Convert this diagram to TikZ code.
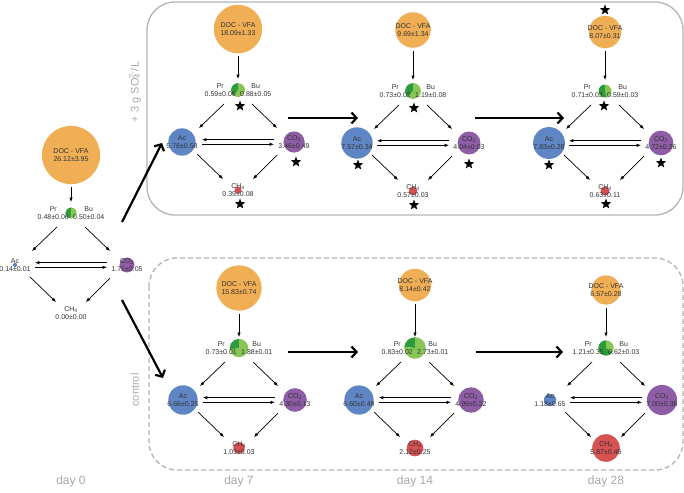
\documentclass[tikz,border=0pt]{standalone}
\usepackage{fontspec}
\setmainfont{Liberation Sans}
\usetikzlibrary{arrows.meta,calc,shapes.geometric}
\definecolor{doc}{HTML}{F0AE55}
\definecolor{ac}{HTML}{5E86C5}
\definecolor{co2}{HTML}{8E5DA6}
\definecolor{ch4}{HTML}{D65252}
\definecolor{prg}{HTML}{2E9B3A}
\definecolor{bug}{HTML}{86C556}
\definecolor{txt}{HTML}{333333}
\definecolor{boxgray}{HTML}{B4B4B4}
\definecolor{lblgray}{HTML}{A8A8A8}
\newcommand\blob[6]{%
  \node[blob, fill=#3, minimum size={11.4*sqrt(#4)}] (#1) at (#2) {};
  \node[lbl] (#1-t) at (#1) {#6\\#4±#5};}
\newcommand\pienode[6]{%
  \coordinate (#1) at (#2);
  \pgfmathsetmacro\pieR{5.7*sqrt(#3+#5)}%
  \pgfmathsetmacro\pieA{90+360*#3/(#3+#5)}%
  \fill[prg] (#1) -- ++(90:\pieR) arc[start angle=90,end angle=\pieA,radius=\pieR] -- cycle;
  \fill[bug] (#1) -- ++(\pieA:\pieR) arc[start angle=\pieA,end angle=450,radius=\pieR] -- cycle;
  \node[lbl, anchor=east] (#1-pr) at ($(#1)+(-2,0)$) {Pr\\#3±#4};
  \node[lbl, anchor=west] (#1-bu) at ($(#1)+(2,0)$) {Bu\\#5±#6};}
\newcommand\netlinks[1]{%
  \draw[sa] ($(#1doc.south)+(0,-3)$) -- ($(#1pie)+(0,11)$);
  \draw[sa] ($(#1pie)+(-14,-14)$) -- ($(#1ac)+(17,14)$);
  \draw[sa] ($(#1pie)+(14,-14)$) -- ($(#1co2)+(-17,14)$);
  \draw[sa] ($(#1ac)+(15,-12)$) -- ($(#1ch4)+(-15,11)$);
  \draw[sa] ($(#1co2)+(-17,-13)$) -- ($(#1ch4)+(15,11)$);
  \draw[sa] ($(#1co2)+(-20,2.3)$) -- ($(#1ac)+(20,2.3)$);
  \draw[sa] ($(#1ac)+(20,-2.3)$) -- ($(#1co2)+(-20,-2.3)$);}
\begin{document}
\begin{tikzpicture}[x=1pt,y=1pt,
  lbl/.style={font=\fontsize{7}{7.8}\selectfont, text=txt, align=center, inner sep=0pt},
  blob/.style={circle, inner sep=0pt, draw=none},
  sa/.style={-{Latex[length=4.3pt,width=3.4pt]}, line width=0.7pt},
  big/.style={-{Straight Barb[length=5pt,width=11pt]}, line width=2.2pt},
  starmark/.style={star, star points=5, star point ratio=2.4, fill=black, inner sep=0pt, minimum size=11pt},
  panel/.style={draw=boxgray, line width=1.3pt, rounded corners=28pt},
  daylbl/.style={font=\fontsize{12}{14}\selectfont, text=lblgray},
  sidelbl/.style={font=\fontsize{11}{13}\selectfont, text=lblgray, rotate=90}]
\useasboundingbox (0,0) rectangle (684,-492);
% panels
\draw[panel] (147,-2) rectangle (683,-215);
\draw[panel, dash pattern=on 5pt off 3pt] (149,-258) rectangle (683,-470);
\node[sidelbl] (lsulf) at (135,-92) {+ 3 g SO\rlap{\textsubscript{4}}\textsuperscript{2-}/L};
\node[sidelbl] (lctrl) at (135,-390) {control};
% day labels
\node[daylbl] (day0) at (71,-481) {day 0};
\node[daylbl] (day7) at (239,-481) {day 7};
\node[daylbl] (day14) at (415,-481) {day 14};
\node[daylbl] (day28) at (606,-481) {day 28};
% ---------- day 0
\pienode{d0pie}{71,-213}{0.48}{0.06}{0.50}{0.04}
\blob{d0doc}{71,-155}{doc}{26.12}{3.95}{DOC - VFA}
\blob{d0ac}{$(d0pie)+(-56,-52)$}{ac}{0.14}{0.01}{Ac}
\blob{d0co2}{$(d0pie)+(56,-52)$}{co2}{1.71}{0.05}{CO\textsubscript{2}}
\blob{d0ch4}{$(d0pie)+(0,-100)$}{ch4}{0.00}{0.00}{CH\textsubscript{4}}
\netlinks{d0}
% ---------- top day 7
\pienode{t7pie}{238,-90}{0.59}{0.06}{0.88}{0.05}
\blob{t7doc}{238,-29}{doc}{18.09}{1.33}{DOC - VFA}
\blob{t7ac}{$(t7pie)+(-56,-52)$}{ac}{5.78}{0.58}{Ac}
\blob{t7co2}{$(t7pie)+(56,-52)$}{co2}{3.46}{0.49}{CO\textsubscript{2}}
\blob{t7ch4}{$(t7pie)+(0,-100)$}{ch4}{0.39}{0.08}{CH\textsubscript{4}}
\netlinks{t7}
\node[starmark] (t7s1) at ($(t7pie)+(2,-16)$) {};
\node[starmark] (t7s2) at ($(t7co2)+(2,-20)$) {};
\node[starmark] (t7s3) at ($(t7ch4)+(2,-14)$) {};
% ---------- top day 14
\pienode{t14pie}{413,-91}{0.73}{0.02}{1.19}{0.08}
\blob{t14doc}{413,-30}{doc}{9.69}{1.34}{DOC - VFA}
\blob{t14ac}{$(t14pie)+(-56,-52)$}{ac}{7.57}{0.34}{Ac}
\blob{t14co2}{$(t14pie)+(56,-52)$}{co2}{4.04}{0.03}{CO\textsubscript{2}}
\blob{t14ch4}{$(t14pie)+(0,-100)$}{ch4}{0.57}{0.03}{CH\textsubscript{4}}
\netlinks{t14}
\node[starmark] (t14s1) at ($(t14pie)+(1,-17)$) {};
\node[starmark] (t14s2) at ($(t14ac)+(1,-22)$) {};
\node[starmark] (t14s3) at ($(t14co2)+(0,-21)$) {};
\node[starmark] (t14s4) at ($(t14ch4)+(1,-14)$) {};
% ---------- top day 28
\pienode{t28pie}{605,-91}{0.71}{0.03}{0.59}{0.03}
\blob{t28doc}{605,-32}{doc}{8.07}{0.31}{DOC - VFA}
\blob{t28ac}{$(t28pie)+(-56,-52)$}{ac}{7.83}{0.28}{Ac}
\blob{t28co2}{$(t28pie)+(56,-52)$}{co2}{4.72}{0.26}{CO\textsubscript{2}}
\blob{t28ch4}{$(t28pie)+(0,-100)$}{ch4}{0.63}{0.11}{CH\textsubscript{4}}
\netlinks{t28}
\node[starmark] (t28s0) at ($(t28doc)+(0,22)$) {};
\node[starmark] (t28s1) at ($(t28pie)+(-1,-15)$) {};
\node[starmark] (t28s2) at ($(t28ac)+(0,-22)$) {};
\node[starmark] (t28s3) at ($(t28co2)+(0,-20)$) {};
\node[starmark] (t28s4) at ($(t28ch4)+(1,-13)$) {};
% ---------- control day 7
\pienode{b7pie}{239,-348}{0.73}{0.01}{1.88}{0.01}
\blob{b7doc}{239,-288}{doc}{15.83}{0.74}{DOC - VFA}
\blob{b7ac}{$(b7pie)+(-56,-52)$}{ac}{6.66}{0.25}{Ac}
\blob{b7co2}{$(b7pie)+(56,-52)$}{co2}{4.30}{0.13}{CO\textsubscript{2}}
\blob{b7ch4}{$(b7pie)+(0,-100)$}{ch4}{1.03}{0.03}{CH\textsubscript{4}}
\netlinks{b7}
% ---------- control day 14
\pienode{b14pie}{415,-348}{0.83}{0.02}{2.73}{0.01}
\blob{b14doc}{415,-285}{doc}{8.14}{0.42}{DOC - VFA}
\blob{b14ac}{$(b14pie)+(-56,-52)$}{ac}{6.60}{0.49}{Ac}
\blob{b14co2}{$(b14pie)+(56,-52)$}{co2}{4.99}{0.22}{CO\textsubscript{2}}
\blob{b14ch4}{$(b14pie)+(0,-100)$}{ch4}{2.12}{0.25}{CH\textsubscript{4}}
\netlinks{b14}
% ---------- control day 28
\pienode{b28pie}{606,-348}{1.21}{0.35}{0.62}{0.03}
\blob{b28doc}{606,-290}{doc}{6.57}{0.28}{DOC - VFA}
\blob{b28ac}{$(b28pie)+(-56,-52)$}{ac}{1.18}{0.65}{Ac}
\blob{b28co2}{$(b28pie)+(56,-52)$}{co2}{7.00}{0.36}{CO\textsubscript{2}}
\blob{b28ch4}{$(b28pie)+(0,-100)$}{ch4}{5.87}{0.45}{CH\textsubscript{4}}
\netlinks{b28}
% ---------- big arrows
\coordinate (g1s) at (122,-222); \coordinate (g1e) at (162,-143);
\coordinate (g2s) at (122,-300); \coordinate (g2e) at (163,-378);
\draw[big] (g1s) -- (g1e);
\draw[big] (g2s) -- (g2e);
\draw[big] ($(t7pie)+(50,-28)$) -- ($(t14ac)+(1,25)$);
\draw[big] ($(t14pie)+(62,-27)$) -- ($(t28ac)+(15,25)$);
\draw[big] ($(b7pie)+(49,-4)$) -- ($(b14ac)+(-1,48)$);
\draw[big] ($(b14pie)+(61,-4)$) -- ($(b28ac)+(13,48)$);
\end{tikzpicture}
\end{document}
